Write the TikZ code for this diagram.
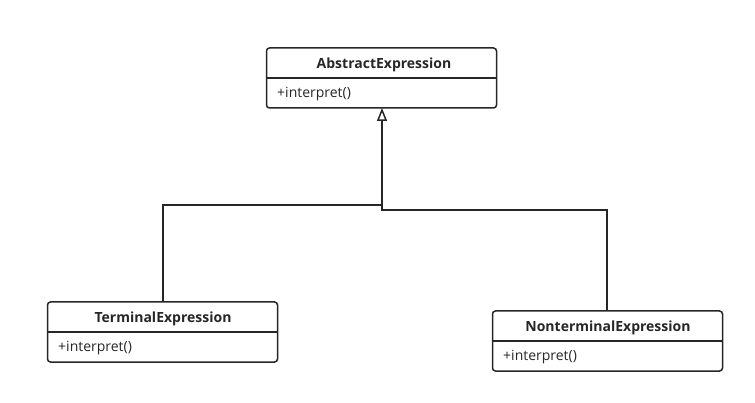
\documentclass[tikz,border=0pt]{standalone}
\usepackage{fontspec}
\setmainfont{Open Sans}
\usetikzlibrary{arrows.meta}
\begin{document}
\begin{tikzpicture}[x=1pt,y=-1pt,
  classbox/.style={draw=black!85,line width=1.5pt,rounded corners=3pt,minimum width=230pt,minimum height=60pt,inner sep=0pt},
  namelbl/.style={font=\bfseries\fontsize{14}{16}\selectfont,text=black!85,inner sep=0pt},
  methlbl/.style={font=\fontsize{14}{16}\selectfont,text=black!85,inner sep=0pt,anchor=west},
  divider/.style={draw=black!85,line width=1.5pt},
  conn/.style={draw=black!85,line width=1.5pt},
  inherit/.style={conn,-{Triangle[open,width=10pt,length=13pt,line width=1.5pt]}}]
\useasboundingbox (0,0) rectangle (755,403);
% AbstractExpression
\node[classbox] (A) at (381.5,78) {};
\draw[divider] (A.west |- 0,78) coordinate (Ad1) -- (A.east |- 0,78) coordinate (Ad2);
\node[namelbl] (An) at (384,64.5) {AbstractExpression};
\node[methlbl] (Am) at (277,94.5) {+interpret()};
% TerminalExpression
\node[classbox] (T) at (162.5,332) {};
\draw[divider] (T.west |- 0,332) coordinate (Td1) -- (T.east |- 0,332) coordinate (Td2);
\node[namelbl] (Tn) at (163,318.5) {TerminalExpression};
\node[methlbl] (Tm) at (58,348.5) {+interpret()};
% NonterminalExpression
\node[classbox] (N) at (607.5,341) {};
\draw[divider] (N.west |- 0,341) coordinate (Nd1) -- (N.east |- 0,341) coordinate (Nd2);
\node[namelbl] (Nn) at (608,327.5) {NonterminalExpression};
\node[methlbl] (Nm) at (503,357.5) {+interpret()};
% connectors
\coordinate (tip) at (382,108);
\coordinate (j1) at (382,205);
\coordinate (j2) at (382,210);
\draw[conn] (T.north -| 163,0) |- (j1);
\draw[inherit] (N.north -| 607,0) |- (j2) -- (tip);
\end{tikzpicture}
\end{document}
